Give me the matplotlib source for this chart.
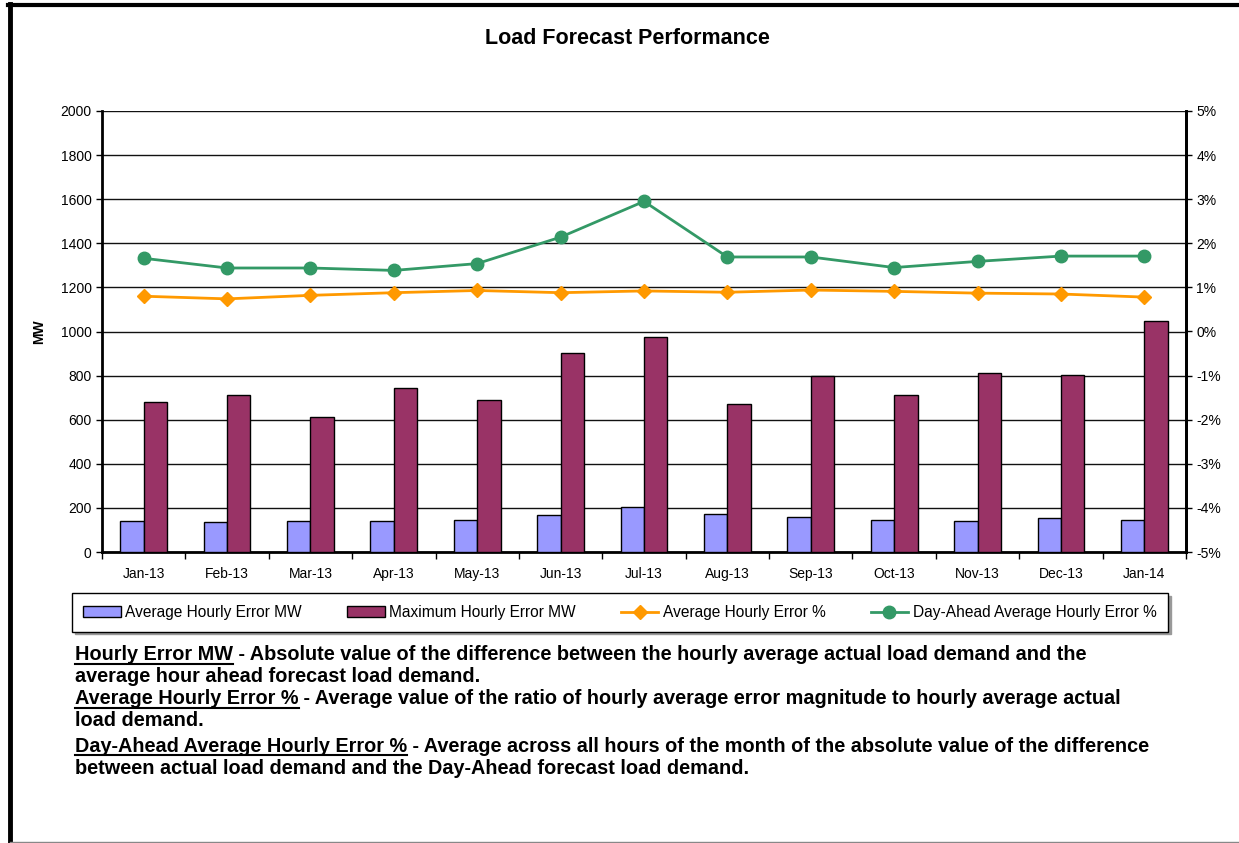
import matplotlib
matplotlib.use("Agg")
import matplotlib.pyplot as plt
import numpy as np
from matplotlib.lines import Line2D

plt.rcParams['font.family'] = ['Liberation Sans', 'DejaVu Sans']

months = ['Jan-13', 'Feb-13', 'Mar-13', 'Apr-13', 'May-13', 'Jun-13', 'Jul-13',
          'Aug-13', 'Sep-13', 'Oct-13', 'Nov-13', 'Dec-13', 'Jan-14']
avg_err_mw = [142, 136, 141, 141, 147, 166, 203, 172, 160, 147, 141, 154, 147]
max_err_mw = [682, 713, 612, 742, 688, 904, 974, 670, 800, 713, 810, 804, 1048]
avg_err_pct = [0.80, 0.74, 0.82, 0.88, 0.93, 0.88, 0.92, 0.89, 0.94, 0.91, 0.87, 0.85, 0.78]
da_err_pct = [1.66, 1.44, 1.44, 1.385, 1.54, 2.14, 2.95, 1.69, 1.69, 1.45, 1.59, 1.71, 1.71]

W, H = 1239, 843
fig = plt.figure(figsize=(W / 100, H / 100), dpi=100)

# outer frame of the chart area
fig.add_artist(Line2D([10 / W, 10 / W], [0, 1 - 4 / H], color='black', lw=3.5, transform=fig.transFigure))
fig.add_artist(Line2D([8 / W, 1], [1 - 5 / H, 1 - 5 / H], color='black', lw=3, transform=fig.transFigure))
fig.add_artist(Line2D([10 / W, 1], [1.5 / H, 1.5 / H], color='#888888', lw=1, transform=fig.transFigure))

ax = fig.add_axes([102 / W, 1 - 552 / H, (1186 - 102) / W, (552 - 111) / H])
x = np.arange(len(months))
bw = 0.28
ax.bar(x - bw / 2, avg_err_mw, bw, color='#9999FF', edgecolor='black', lw=1, zorder=3,
       label='Average Hourly Error MW')
ax.bar(x + bw / 2, max_err_mw, bw, color='#993366', edgecolor='black', lw=1, zorder=3,
       label='Maximum Hourly Error MW')
ax.set_xlim(-0.5, len(months) - 0.5)
ax.set_ylim(0, 2000)
ax.set_yticks(np.arange(0, 2001, 200))
ax.set_xticks(x)
ax.set_xticklabels(months, fontsize=10)
ax.set_xticks(np.arange(-0.5, len(months), 1), minor=True)
ax.tick_params(axis='x', which='major', length=0, pad=11)
ax.tick_params(axis='x', which='minor', length=5, width=1)
ax.tick_params(axis='y', labelsize=10, length=4, width=1)
ax.grid(axis='y', color='#111111', lw=1, zorder=0)
ax.set_ylabel('MW', fontsize=10, fontweight='bold')
ax.yaxis.set_label_coords(-56 / (1186 - 102), 0.5)
for s in ['left', 'bottom', 'right']:
    ax.spines[s].set_linewidth(2)
ax.spines['top'].set_visible(False)

ax2 = ax.twinx()
ax2.plot(x, avg_err_pct, color='#FF9900', lw=2, marker='D', ms=7.5, zorder=4,
         label='Average Hourly Error %')
ax2.plot(x, da_err_pct, color='#339966', lw=2, marker='o', ms=9, zorder=4,
         label='Day-Ahead Average Hourly Error %')
ax2.set_ylim(-5, 5)
ax2.set_yticks(np.arange(-5, 6, 1))
ax2.set_yticklabels([f'{v}%' for v in range(-5, 6)])
ax2.tick_params(axis='y', labelsize=10, length=4, width=1)
ax2.spines['right'].set_linewidth(2)
ax2.spines['top'].set_visible(False)
ax2.spines['left'].set_visible(False)
ax2.spines['bottom'].set_visible(False)

fig.text(627 / W, 1 - 38 / H, 'Load Forecast Performance', ha='center', va='center',
         fontsize=15.5, fontweight='bold')

h1, l1 = ax.get_legend_handles_labels()
h2, l2 = ax2.get_legend_handles_labels()
fig.legend(h1 + h2, l1 + l2, ncol=4, loc='center', bbox_to_anchor=(620 / W, 1 - 612.5 / H),
           fontsize=11.2, frameon=True, fancybox=False, edgecolor='black',
           handlelength=2.4, columnspacing=2.9, handletextpad=0.3, borderpad=0.75,
           borderaxespad=0,
           shadow={'color': '#999999', 'alpha': 1, 'ox': 2, 'oy': -2})

notes = [
    ('Hourly Error MW', ' - Absolute value of the difference between the hourly average actual load demand and the', 655),
    ('', 'average hour ahead forecast load demand.', 677),
    ('Average Hourly Error %', ' - Average value of the ratio of hourly average error magnitude to hourly average actual', 699),
    ('', 'load demand.', 721),
    ('Day-Ahead Average Hourly Error %', ' - Average across all hours of the month of the absolute value of the difference', 746),
    ('', 'between actual load demand and the Day-Ahead forecast load demand.', 769),
]
renderer = fig.canvas.get_renderer()
fs = 14.3
for term, rest, yp in notes:
    x0 = 75
    if term:
        t = fig.text(x0 / W, 1 - yp / H, term, ha='left', va='center', fontsize=fs, fontweight='bold')
        bb = t.get_window_extent(renderer)
        yl = bb.y0 + 1
        fig.add_artist(Line2D([bb.x0 / W, bb.x1 / W], [yl / H, yl / H], color='black', lw=1.5,
                              transform=fig.transFigure))
        x0 = bb.x1
    fig.text(x0 / W, 1 - yp / H, rest, ha='left', va='center', fontsize=fs, fontweight='bold')

fig.savefig('out.png', dpi=100)
